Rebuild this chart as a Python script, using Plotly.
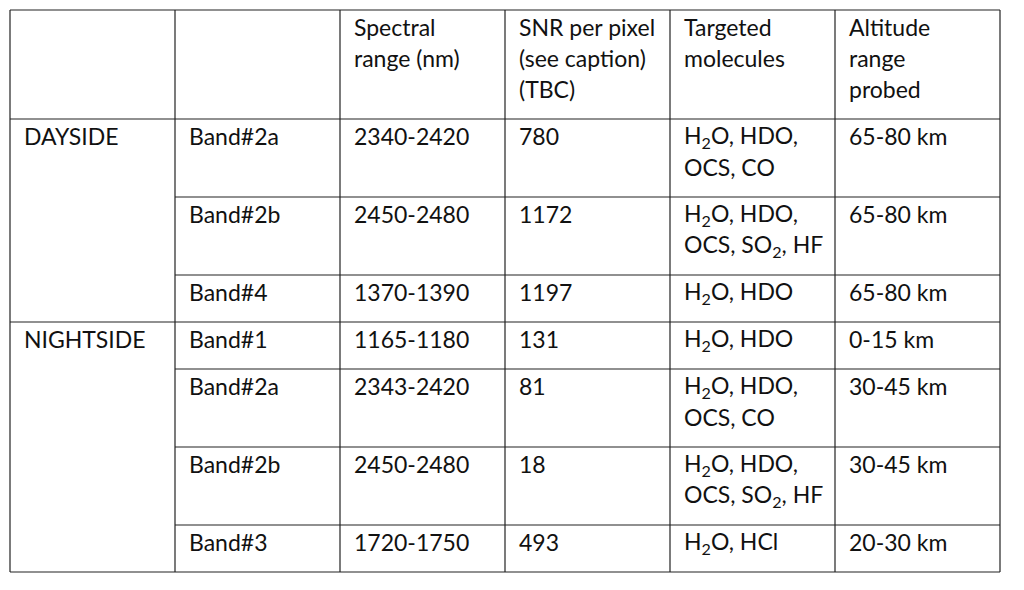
import plotly.graph_objects as go

# table content
HEADERS = [
    [],
    [],
    ["Spectral", "range (nm)"],
    ["SNR per pixel", "(see caption)", "(TBC)"],
    ["Targeted", "molecules"],
    ["Altitude", "range", "probed"],
]
GROUPS = ["DAYSIDE", "NIGHTSIDE"]
GROUP_SIZES = [3, 4]
BANDS = ["Band#2a", "Band#2b", "Band#4", "Band#1", "Band#2a", "Band#2b", "Band#3"]
SPECTRAL = ["2340-2420", "2450-2480", "1370-1390", "1165-1180", "2343-2420", "2450-2480", "1720-1750"]
SNR = ["780", "1172", "1197", "131", "81", "18", "493"]
MOLECULES = [
    ["H<sub>2</sub>O, HDO,", "OCS, CO"],
    ["H<sub>2</sub>O, HDO,", "OCS, SO<sub>2</sub>, HF"],
    ["H<sub>2</sub>O, HDO"],
    ["H<sub>2</sub>O, HDO"],
    ["H<sub>2</sub>O, HDO,", "OCS, CO"],
    ["H<sub>2</sub>O, HDO,", "OCS, SO<sub>2</sub>, HF"],
    ["H<sub>2</sub>O, HCl"],
]
ALTITUDE = ["65-80 km", "65-80 km", "65-80 km", "0-15 km", "30-45 km", "30-45 km", "20-30 km"]

# layout constants (pixels)
W, H = 1024, 590
PAGE_MARGIN = 8  # browser body margin, compensated in the axis ranges
LEFT, TOP = 10, 10
COL_W = 165
LINE_H = 31
ROW_PAD = 16
TEXT_PAD_X = 12
FIRST_LINE = 17
FONT = dict(family="Lato", size=23, color="#111")
LINE = dict(color="#222", width=1.2)

n_cols = len(HEADERS)
col_x = [LEFT + COL_W * i for i in range(n_cols + 1)]

# build body rows: each cell is a list of lines
body = []
for i in range(len(BANDS)):
    body.append([[], [BANDS[i]], [SPECTRAL[i]], [SNR[i]], MOLECULES[i], [ALTITUDE[i]]])

# group label goes into the first row of each group
start = 0
group_starts = []
for g, size in zip(GROUPS, GROUP_SIZES):
    body[start][0] = [g]
    group_starts.append(start)
    start += size

rows = [HEADERS] + body
row_y = [TOP]
for r in rows:
    n_lines = max(len(c) for c in r)
    row_y.append(row_y[-1] + n_lines * LINE_H + ROW_PAD)

fig = go.Figure()

shapes = []
# outer border and vertical lines
for x in col_x:
    shapes.append(dict(type="line", x0=x, x1=x, y0=row_y[0], y1=row_y[-1], line=LINE))
# horizontal lines; inside a group the first column is merged
for k, y in enumerate(row_y):
    body_idx = k - 1
    full = k in (0, 1, len(row_y) - 1) or body_idx in group_starts
    x0 = col_x[0] if full else col_x[1]
    shapes.append(dict(type="line", x0=x0, x1=col_x[-1], y0=y, y1=y, line=LINE))

annotations = []
for ri, r in enumerate(rows):
    for ci, cell in enumerate(r):
        for li, txt in enumerate(cell):
            annotations.append(dict(
                x=col_x[ci] + TEXT_PAD_X,
                y=row_y[ri] + FIRST_LINE + li * LINE_H,
                text=txt, showarrow=False,
                xanchor="left", yanchor="middle",
                font=FONT,
            ))

fig.update_layout(
    width=W, height=H,
    margin=dict(l=0, r=0, t=0, b=0),
    paper_bgcolor="white", plot_bgcolor="white",
    xaxis=dict(range=[PAGE_MARGIN, W + PAGE_MARGIN], visible=False, fixedrange=True),
    yaxis=dict(range=[H + PAGE_MARGIN, PAGE_MARGIN], visible=False, fixedrange=True),
    shapes=shapes,
    annotations=annotations,
    showlegend=False,
)

fig.write_html("out.html")
